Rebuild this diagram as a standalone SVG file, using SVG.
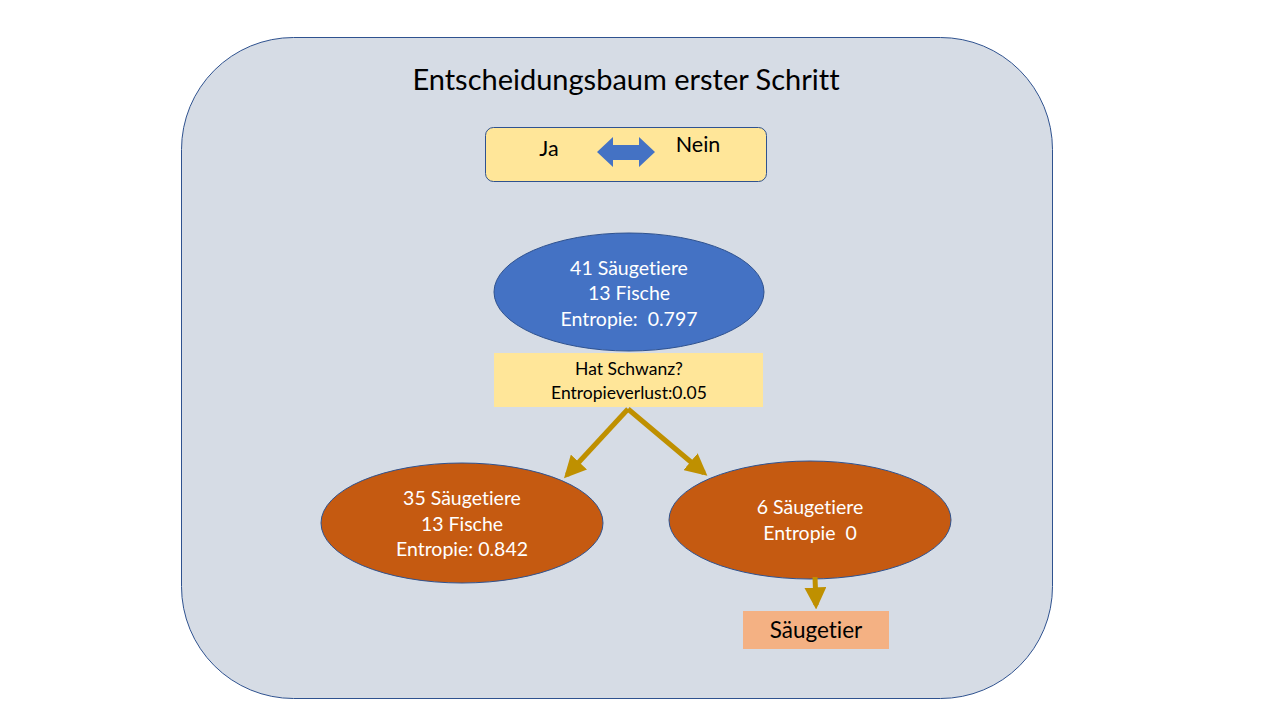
<svg xmlns="http://www.w3.org/2000/svg" width="1280" height="720" viewBox="0 0 1280 720">
<defs>
<style>
text{font-family:Lato,"Open Sans","Liberation Sans",sans-serif;text-anchor:middle;font-variant-ligatures:none;white-space:pre}
.w{fill:#fff;font-size:19.5px}
.k{fill:#000}
.ell{stroke:#2F528F;stroke-width:1}
.con{stroke:#BF9000;stroke-width:5;fill:none}
</style>
<marker id="ah" viewBox="0 0 10 10" refX="8" refY="5" markerWidth="4.4" markerHeight="4.4" orient="auto" markerUnits="strokeWidth">
<path d="M0,0 L10,5 L0,10 z" fill="#BF9000"/>
</marker>
</defs>
<rect width="1280" height="720" fill="#fff"/>
<g id="frame">
<rect x="181.5" y="37.5" width="871" height="661" rx="112" ry="112" fill="#D6DCE5" stroke="#2F528F" stroke-width="1"/>
<text x="626" y="90" class="k" font-size="29">Entscheidungsbaum erster Schritt</text>
</g>
<g id="legend">
<rect x="485.5" y="127.5" width="281" height="54" rx="8" fill="#FFE699" stroke="#2F528F" stroke-width="1"/>
<text x="549" y="156" class="k" font-size="21.5">Ja</text>
<text x="698" y="152" class="k" font-size="21.5">Nein</text>
<path d="M597,152 L613,137 L613,145 L639,145 L639,137 L655,152 L639,167 L639,160 L613,160 L613,167 Z" fill="#4472C4"/>
</g>
<g id="root">
<ellipse cx="629" cy="292" rx="135" ry="59" fill="#4472C4" class="ell"/>
<text x="629" y="275" class="w">41 Säugetiere</text>
<text x="629" y="300" class="w">13 Fische</text>
<text x="629" y="326" class="w">Entropie:  0.797</text>
</g>
<g id="question">
<rect x="494" y="353" width="269" height="54" fill="#FFE699"/>
<text x="629" y="375" class="k" font-size="17.5">Hat Schwanz?</text>
<text x="629" y="399" class="k" font-size="17.5">Entropieverlust:0.05</text>
</g>
<g id="left">
<ellipse cx="462" cy="523" rx="141" ry="60" fill="#C55A11" class="ell"/>
<text x="462" y="505" class="w">35 Säugetiere</text>
<text x="462" y="531" class="w">13 Fische</text>
<text x="462" y="556" class="w">Entropie: 0.842</text>
</g>
<g id="right">
<ellipse cx="810" cy="520" rx="141" ry="59" fill="#C55A11" class="ell"/>
<text x="810" y="514" class="w">6 Säugetiere</text>
<text x="810" y="540" class="w">Entropie  0</text>
</g>
<g id="leaf">
<rect x="743" y="611" width="146" height="38" fill="#F4B183"/>
<text x="816" y="638" class="k" font-size="22.5">Säugetier</text>
</g>
<g id="connectors">
<path class="con" d="M628,409 L567,475" marker-end="url(#ah)"/>
<path class="con" d="M628,409 L704,473" marker-end="url(#ah)"/>
<path class="con" d="M815,577 L816,605" marker-end="url(#ah)"/>
</g>
</svg>
